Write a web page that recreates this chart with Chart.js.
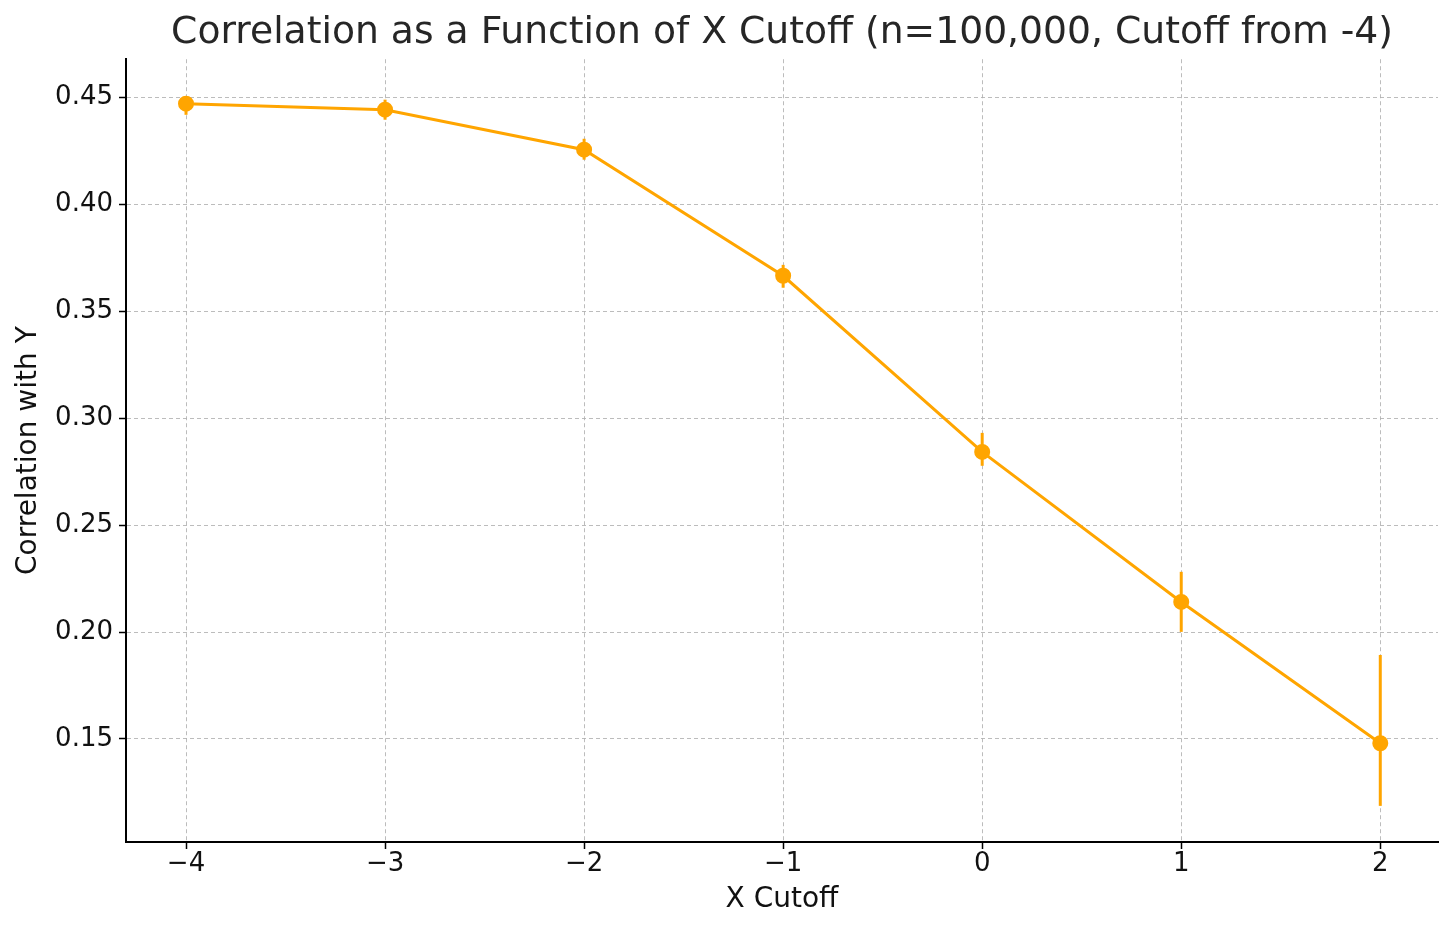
<!DOCTYPE html>
<html>
<head>
<meta charset="utf-8">
<script src="https://cdn.jsdelivr.net/npm/chart.js@4"></script>
<style>
  html, body { margin: 0; padding: 0; background: #fff; }
  #wrap { width: 1456px; height: 933px; }
</style>
</head>
<body>
<div id="wrap"><canvas id="chart" width="1456" height="933"></canvas></div>
<script>
// values
const cutoffs = [-4, -3, -2, -1, 0, 1, 2];
const correlation = [0.4472, 0.4444, 0.4257, 0.3667, 0.2843, 0.2141, 0.1480];
const errLow = [0.4420, 0.4397, 0.4210, 0.3611, 0.2778, 0.2001, 0.1187];
const errHigh = [0.4505, 0.4491, 0.4308, 0.3718, 0.2932, 0.2282, 0.1893];
const xTicks = [-4, -3, -2, -1, 0, 1, 2];
const yTicks = [0.15, 0.20, 0.25, 0.30, 0.35, 0.40, 0.45];

const orange = '#FFA500';
const font = 'DejaVu Sans';

// vertical error bars, drawn through the chart scales
const errorBars = {
    id: 'errorBars',
    beforeDatasetsDraw(chart) {
        const {ctx, scales: {x, y}} = chart;
        ctx.save();
        ctx.strokeStyle = orange;
        ctx.lineWidth = 3;
        for (let i = 0; i < cutoffs.length; i++) {
            const px = x.getPixelForValue(cutoffs[i]);
            ctx.beginPath();
            ctx.moveTo(px, y.getPixelForValue(errLow[i]));
            ctx.lineTo(px, y.getPixelForValue(errHigh[i]));
            ctx.stroke();
        }
        ctx.restore();
    }
};

const gridOpts = {
    color: 'rgba(176,176,176,0.85)',
    lineWidth: 1,
    tickColor: '#000',
    tickLength: 7,
    tickWidth: 1.5,
    tickBorderDash: [],
};
// in v4 border.dash sets the dash of the grid lines
const borderOpts = {display: true, color: '#000', width: 2, dash: [4, 3]};

new Chart(document.getElementById('chart').getContext('2d'), {
    type: 'line',
    data: {
        datasets: [{
            data: cutoffs.map((c, i) => ({x: c, y: correlation[i]})),
            borderColor: orange,
            backgroundColor: orange,
            borderWidth: 3,
            pointRadius: 6.5,
            pointHoverRadius: 6.5,
            tension: 0,
        }]
    },
    options: {
        responsive: false,
        animation: false,
        layout: {padding: {left: 0, right: 18, top: 0, bottom: 0}},
        plugins: {
            legend: {display: false},
            tooltip: {enabled: false},
            title: {
                display: true,
                fullSize: false,   // centre over the plot area, like matplotlib
                text: 'Correlation as a Function of X Cutoff (n=100,000, Cutoff from -4)',
                color: '#262626',
                font: {family: font, size: 37.7, weight: 'normal'},
                padding: {top: 10.5, bottom: 3.5},
            }
        },
        scales: {
            x: {
                type: 'linear',
                min: -4.3015,
                max: 2.29,
                afterBuildTicks(scale) { scale.ticks = xTicks.map(v => ({value: v})); },
                afterFit(scale) { scale.height = 91; },
                ticks: {
                    color: '#111',
                    font: {family: font, size: 26},
                    padding: 0,
                    callback: v => String(v).replace('-', '\u2212'),
                },
                grid: gridOpts,
                border: borderOpts,
                title: {
                    display: true,
                    text: 'X Cutoff',
                    color: '#111',
                    font: {family: font, size: 28},
                    padding: {top: 0, bottom: 16},
                }
            },
            y: {
                type: 'linear',
                min: 0.1018,
                max: 0.468,
                afterBuildTicks(scale) { scale.ticks = yTicks.map(v => ({value: v})); },
                afterFit(scale) { scale.width = 126; },
                ticks: {
                    color: '#111',
                    font: {family: font, size: 26},
                    padding: 6,
                    callback: v => v.toFixed(2),
                },
                grid: gridOpts,
                border: borderOpts,
                title: {
                    display: true,
                    text: 'Correlation with Y',
                    color: '#111',
                    font: {family: font, size: 28},
                    padding: {top: 12, bottom: 0},
                }
            }
        }
    },
    plugins: [errorBars]
});
</script>
</body>
</html>
